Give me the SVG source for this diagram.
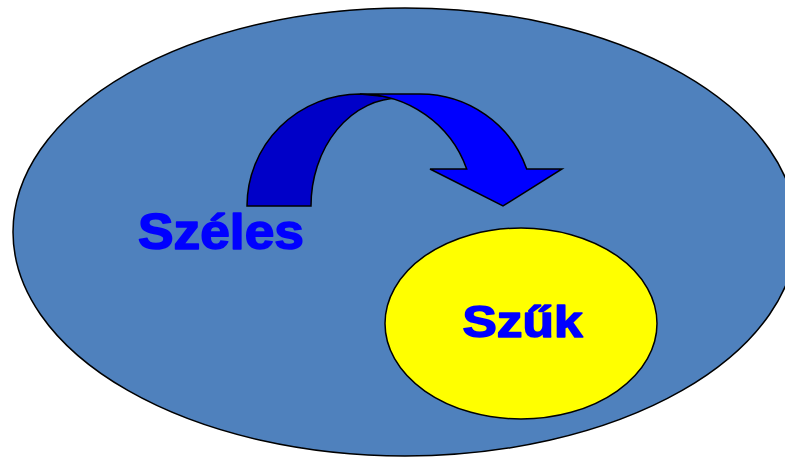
<svg xmlns="http://www.w3.org/2000/svg" width="785" height="457" viewBox="0 0 785 457">
  <style>
    .outline { stroke: #000000; stroke-width: 1.5; }
    .label { font-family: "Liberation Sans", Arial, sans-serif; font-weight: bold; fill: #0000FF; stroke: #0000FF; stroke-width: 1.6; stroke-linejoin: round; }
  </style>
  <rect width="785" height="457" fill="#FFFFFF"/>
  <g id="wide-set">
    <ellipse cx="405" cy="232" rx="392" ry="224" fill="#4F81BD" class="outline"/>
    <text class="label" x="138" y="249" font-size="50" textLength="166" lengthAdjust="spacingAndGlyphs">Széles</text>
  </g>
  <g id="narrow-set">
    <ellipse cx="521" cy="323.5" rx="136" ry="95.5" fill="#FFFF00" class="outline"/>
    <text class="label" x="462.5" y="336.5" font-size="45" textLength="120" lengthAdjust="spacingAndGlyphs">Szűk</text>
  </g>
  <g id="connectors">
    <!-- back half of the curved arrow -->
    <path d="M247,206 A113,112 0 0 1 360,94 L400,98 A89,108 0 0 0 311,206 Z" fill="#0000C8" class="outline" stroke-linejoin="miter"/>
    <!-- front half with arrowhead -->
    <path d="M360,94 L420,94 A113,112 0 0 1 526.7,169 L562,169 L503,206 L430,169 L466.7,169 A113,112 0 0 0 360,94 Z" fill="#0000FF" class="outline" stroke-linejoin="miter"/>
  </g>
</svg>
